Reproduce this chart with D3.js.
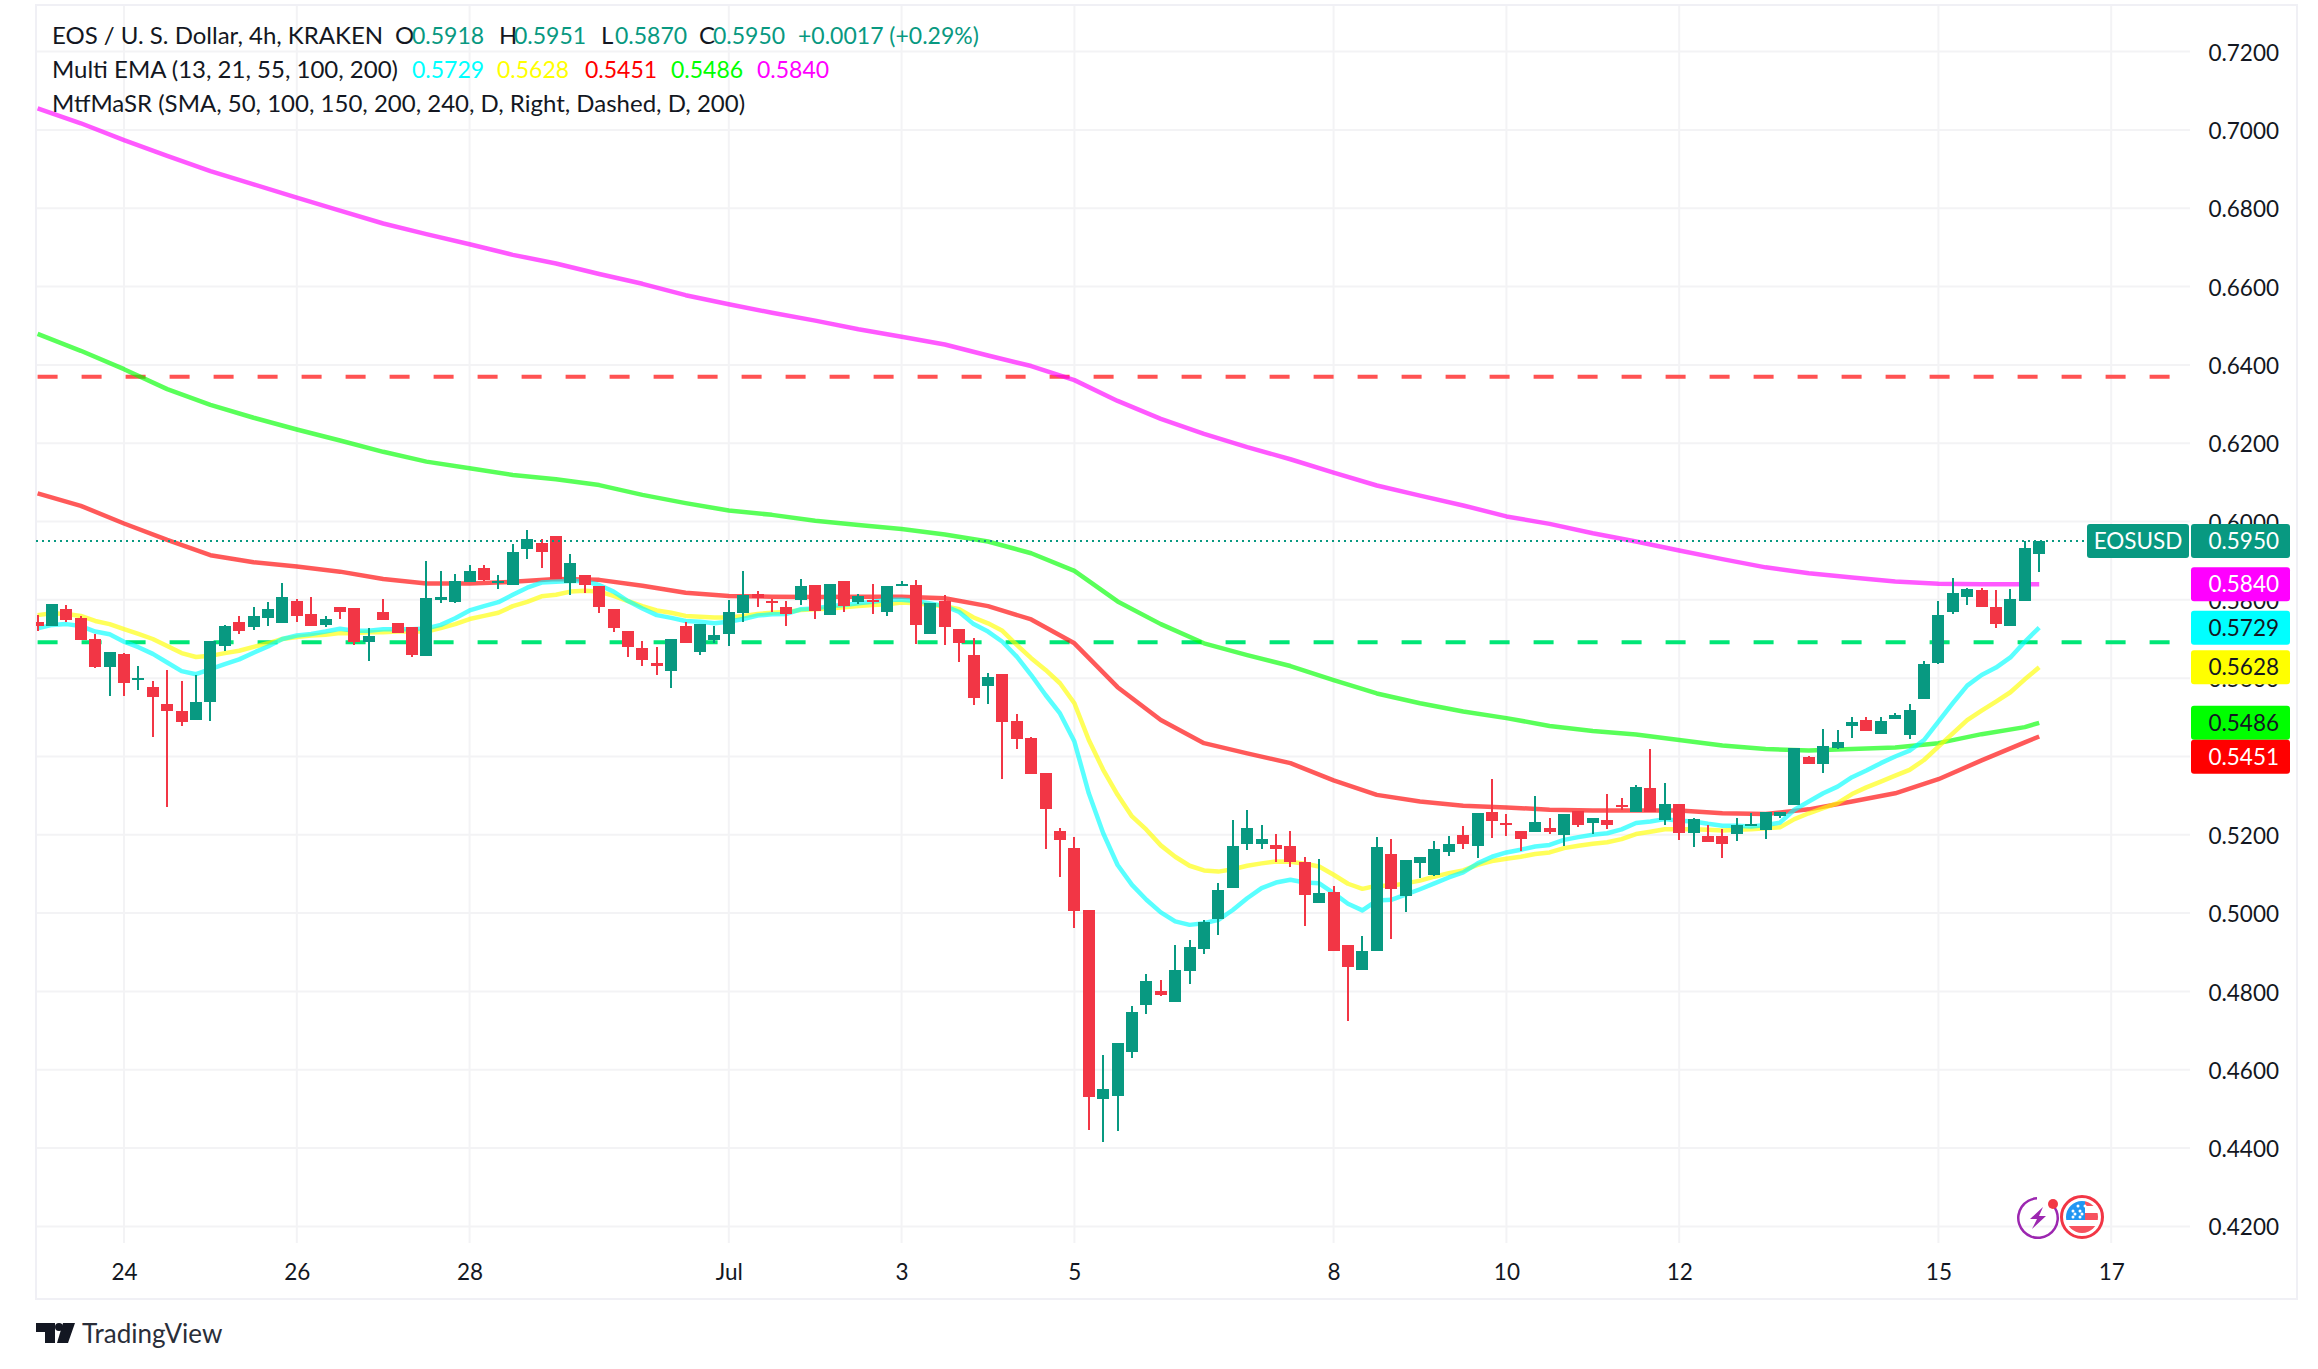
<!DOCTYPE html>
<html>
<head>
<meta charset="utf-8">
<title>EOS / U. S. Dollar</title>
<script src="https://cdn.jsdelivr.net/npm/d3@7"></script>
<style>
    html, body { margin: 0; padding: 0; background: #fff; }
    svg { display: block; }
    text { font-family: Lato, "Noto Sans", sans-serif; fill: #131722; }
</style>
</head>
<body>
<svg id="chart" width="2318" height="1369"></svg>
<script>
// open, high, low, close - one row per 4h bar, first bar is Jun 23 00:00
var candles = [
[.5744,.5761,.5721,.5733],[.5733,.5790,.5733,.5790],[.5777,.5787,.5744,.5749],[.5754,.5759,.5698,.5698],
[.5700,.5713,.5626,.5629],[.5629,.5667,.5555,.5667],[.5662,.5664,.5555,.5588],[.5596,.5631,.5570,.5601],
[.5578,.5593,.5450,.5552],[.5534,.5621,.5271,.5516],[.5516,.5593,.5478,.5488],[.5493,.5608,.5493,.5539],
[.5539,.5695,.5491,.5695],[.5682,.5736,.5670,.5733],[.5744,.5759,.5713,.5721],[.5731,.5782,.5723,.5759],
[.5754,.5795,.5733,.5777],[.5741,.5843,.5741,.5807],[.5797,.5802,.5744,.5759],[.5764,.5807,.5733,.5733],
[.5736,.5759,.5731,.5751],[.5782,.5782,.5751,.5769],[.5779,.5779,.5685,.5693],[.5693,.5728,.5644,.5708],
[.5769,.5802,.5749,.5749],[.5741,.5741,.5716,.5716],[.5731,.5731,.5654,.5659],[.5657,.5899,.5657,.5805],
[.5800,.5874,.5792,.5807],[.5795,.5866,.5792,.5848],[.5846,.5889,.5846,.5874],[.5881,.5889,.5848,.5851],
[.5843,.5864,.5828,.5848],[.5838,.5943,.5838,.5922],[.5930,.5978,.5904,.5955],[.5945,.5955,.5881,.5922],
[.5963,.5963,.5853,.5853],[.5843,.5917,.5813,.5894],[.5864,.5864,.5818,.5838],[.5836,.5836,.5767,.5782],
[.5777,.5777,.5718,.5728],[.5721,.5721,.5654,.5680],[.5677,.5695,.5631,.5647],[.5639,.5680,.5608,.5631],
[.5618,.5700,.5575,.5700],[.5733,.5744,.5690,.5690],[.5667,.5738,.5659,.5738],[.5698,.5733,.5690,.5710],
[.5713,.5800,.5682,.5769],[.5767,.5874,.5744,.5813],[.5815,.5823,.5782,.5805],[.5797,.5802,.5769,.5792],
[.5782,.5797,.5733,.5764],[.5800,.5853,.5787,.5836],[.5838,.5838,.5751,.5772],[.5761,.5841,.5761,.5841],
[.5848,.5848,.5769,.5784],[.5795,.5815,.5790,.5810],[.5800,.5841,.5764,.5795],[.5769,.5836,.5759,.5836],
[.5836,.5848,.5836,.5841],[.5838,.5851,.5687,.5736],[.5713,.5792,.5713,.5792],[.5797,.5813,.5685,.5731],
[.5726,.5726,.5641,.5690],[.5659,.5703,.5532,.5550],[.5580,.5613,.5534,.5603],[.5611,.5611,.5343,.5488],
[.5491,.5509,.5419,.5445],[.5447,.5450,.5356,.5356],[.5358,.5358,.5164,.5266],[.5210,.5218,.5093,.5187],
[.5167,.5195,.4962,.5006],[.5008,.5008,.4447,.4531],[.4526,.4638,.4416,.4551],[.4533,.4669,.4444,.4669],
[.4646,.4763,.4631,.4748],[.4766,.4845,.4743,.4827],[.4802,.4830,.4789,.4791],[.4773,.4919,.4773,.4855],
[.4853,.4932,.4819,.4914],[.4909,.4983,.4896,.4978],[.4985,.5077,.4945,.5059],[.5064,.5238,.5064,.5172],
[.5177,.5264,.5162,.5218],[.5177,.5225,.5164,.5190],[.5174,.5202,.5131,.5164],[.5172,.5210,.5118,.5131],
[.5131,.5144,.4967,.5047],[.5026,.5139,.5026,.5052],[.5054,.5070,.4904,.4904],[.4919,.4919,.4725,.4863],
[.4855,.4942,.4855,.4904],[.4904,.5195,.4904,.5169],[.5151,.5190,.4934,.5062],[.5044,.5136,.5003,.5136],
[.5128,.5144,.5090,.5144],[.5098,.5184,.5095,.5164],[.5156,.5197,.5146,.5177],[.5200,.5223,.5164,.5177],
[.5172,.5256,.5141,.5256],[.5259,.5343,.5192,.5236],[.5230,.5253,.5197,.5225],[.5210,.5210,.5159,.5190],
[.5207,.5299,.5207,.5233],[.5218,.5243,.5202,.5207],[.5200,.5253,.5172,.5253],[.5261,.5261,.5220,.5225],
[.5230,.5243,.5202,.5243],[.5238,.5304,.5215,.5225],[.5276,.5294,.5264,.5271],[.5259,.5327,.5259,.5322],
[.5320,.5419,.5259,.5259],[.5238,.5333,.5225,.5279],[.5279,.5279,.5187,.5205],[.5205,.5243,.5169,.5241],
[.5197,.5225,.5182,.5182],[.5197,.5215,.5141,.5177],[.5202,.5243,.5184,.5225],[.5223,.5256,.5223,.5228],
[.5213,.5259,.5190,.5259],[.5248,.5259,.5243,.5259],[.5276,.5422,.5276,.5422],[.5399,.5401,.5381,.5381],
[.5381,.5470,.5358,.5427],[.5422,.5468,.5419,.5437],[.5478,.5501,.5447,.5488],[.5493,.5501,.5465,.5465],
[.5458,.5501,.5458,.5491],[.5496,.5511,.5496,.5506],[.5455,.5534,.5445,.5519],[.5547,.5644,.5547,.5636],
[.5639,.5797,.5636,.5761],[.5769,.5856,.5764,.5818],[.5807,.5830,.5787,.5828],[.5825,.5830,.5782,.5782],
[.5782,.5825,.5728,.5738],[.5733,.5828,.5733,.5802],[.5797,.5950,.5797,.5933],[.5918,.5951,.5870,.5950]
];

// EMA 13 and EMA 21, read at every bar
var ema13 = [.5727,.5736,.5738,.5733,.5719,.5712,.5693,.5679,.5662,.5640,.5618,.5610,.5623,.5636,.5648,.5665,.5681,.5700,.5709,.5713,
.5719,.5726,.5721,.5721,.5725,.5725,.5725,.5727,.5736,.5753,.5773,.5784,.5794,.5813,.5831,.5844,.5846,.5848,.5848,.5838,
.5821,.5797,.5778,.5761,.5754,.5746,.5744,.5740,.5744,.5751,.5760,.5763,.5764,.5776,.5778,.5784,.5787,.5791,.5795,.5800,
.5800,.5797,.5791,.5784,.5769,.5738,.5719,.5693,.5655,.5608,.5557,.5510,.5438,.5306,.5204,.5123,.5072,.5034,.5002,.4979,
.4970,.4974,.4983,.5008,.5038,.5064,.5078,.5085,.5078,.5076,.5051,.5024,.5007,.5032,.5034,.5047,.5061,.5076,.5091,.5104,
.5127,.5144,.5155,.5162,.5170,.5174,.5187,.5194,.5200,.5204,.5214,.5230,.5234,.5240,.5236,.5234,.5228,.5223,.5223,.5221,
.5225,.5231,.5264,.5285,.5306,.5323,.5347,.5364,.5383,.5400,.5415,.5442,.5489,.5536,.5581,.5608,.5627,.5653,.5693,.5729];

var ema21 = [.5761,.5766,.5764,.5759,.5746,.5738,.5725,.5713,.5700,.5682,.5664,.5654,.5657,.5664,.5670,.5680,.5689,.5700,.5705,.5709,
.5711,.5715,.5715,.5717,.5717,.5719,.5719,.5719,.5728,.5738,.5751,.5759,.5767,.5784,.5795,.5809,.5813,.5821,.5823,.5821,
.5810,.5797,.5784,.5773,.5767,.5759,.5757,.5755,.5755,.5759,.5764,.5767,.5769,.5774,.5776,.5778,.5781,.5784,.5787,.5789,
.5793,.5791,.5787,.5784,.5776,.5755,.5740,.5721,.5685,.5651,.5621,.5587,.5536,.5442,.5366,.5302,.5247,.5213,.5173,.5144,
.5121,.5109,.5106,.5112,.5121,.5127,.5132,.5131,.5126,.5119,.5098,.5075,.5062,.5070,.5070,.5076,.5083,.5093,.5102,.5109,
.5123,.5133,.5139,.5144,.5151,.5155,.5166,.5172,.5177,.5181,.5189,.5202,.5208,.5214,.5214,.5214,.5213,.5211,.5213,.5214,
.5217,.5219,.5240,.5255,.5268,.5281,.5304,.5321,.5336,.5351,.5366,.5391,.5425,.5459,.5493,.5517,.5540,.5564,.5597,.5628];

// the slow averages are read every third bar
var slowBars = [0,3,6,9,12,15,18,21,24,27,30,33,36,39,42,45,48,51,54,57,60,63,66,69,72,75,78,81,84,87,90,93,96,99,102,105,108,111,114,117,120,123,126,129,132,135,138,139];
var ema55 = [.6072,.6040,.5995,.5953,.5914,.5896,.5885,.5872,.5853,.5842,.5842,.5846,.5853,.5851,.5836,.5818,.5810,.5808,.5807,.5808,.5808,.5804,.5784,.5750,.5689,.5577,.5493,.5434,.5408,.5383,.5339,.5302,.5285,.5274,.5270,.5264,.5262,.5262,.5262,.5255,.5253,.5265,.5285,.5306,.5342,.5390,.5436,.5451];
var ema100 = [.6479,.6436,.6389,.6338,.6298,.6265,.6235,.6207,.6178,.6153,.6136,.6119,.6108,.6093,.6068,.6047,.6028,.6017,.6002,.5991,.5981,.5967,.5949,.5919,.5874,.5796,.5738,.5689,.5659,.5631,.5595,.5561,.5536,.5515,.5498,.5478,.5465,.5456,.5442,.5428,.5419,.5415,.5419,.5423,.5434,.5457,.5475,.5486];
var ema200 = [.7055,.7017,.6974,.6934,.6895,.6861,.6827,.6794,.6761,.6734,.6708,.6681,.6659,.6632,.6607,.6578,.6555,.6533,.6513,.6491,.6472,.6452,.6424,.6397,.6361,.6308,.6262,.6224,.6190,.6159,.6125,.6092,.6066,.6041,.6013,.5994,.5970,.5949,.5926,.5904,.5883,.5868,.5857,.5847,.5841,.5840,.5840,.5840];

var levelValues = [0.6370, 0.5692];
var levelColors = ["#ff5252", "#00e676"];

var priceTicks = [0.42,0.44,0.46,0.48,0.50,0.52,0.54,0.56,0.58,0.60,0.62,0.64,0.66,0.68,0.70,0.72];
var timeTickBars = [6,18,30,48,60,72,90,102,114,132,144];
var timeTickLabels = ["24","26","28","Jul","3","5","8","10","12","15","17"];

var tagValues = [0.5840, 0.5729, 0.5628, 0.5486, 0.5451];
var tagColors = ["#ff00ff", "#00ffff", "#ffff00", "#00ff00", "#ff0000"];
var tagTextColors = ["#ffffff", "#131722", "#131722", "#131722", "#ffffff"];
var lastPrice = 0.5950;

var upColor = "#089981";
var downColor = "#f23645";
var gridColor = "#f3f3f5";
var borderColor = "#f0f0f5";

var paneLeft = 36, paneRight = 2190, paneTop = 5, paneBottom = 1243, frameRight = 2297, frameBottom = 1299;
var tagHeight = 34;

var svg = d3.select("#chart");
var x = d3.scaleLinear().domain([0, 144]).range([37.6, 2111.2]);
var y = d3.scaleLinear().domain([0.42, 0.72]).range([1226.4, 51.6]);
var priceFormat = d3.format(".4f");

svg.append("defs").append("clipPath").attr("id", "paneClip").append("rect")
    .attr("x", paneLeft).attr("y", paneTop)
    .attr("width", paneRight - paneLeft).attr("height", paneBottom - paneTop);

// Grid
svg.append("g").selectAll("line").data(priceTicks).join("line")
    .attr("x1", paneLeft).attr("x2", paneRight)
    .attr("y1", function(d) { return y(d); }).attr("y2", function(d) { return y(d); })
    .attr("stroke", gridColor).attr("stroke-width", 2);
svg.append("g").selectAll("line").data(timeTickBars).join("line")
    .attr("x1", function(d) { return x(d); }).attr("x2", function(d) { return x(d); })
    .attr("y1", paneTop).attr("y2", paneBottom)
    .attr("stroke", gridColor).attr("stroke-width", 2);

// Frame
svg.append("rect")
    .attr("x", paneLeft).attr("y", paneTop)
    .attr("width", frameRight - paneLeft).attr("height", frameBottom - paneTop)
    .attr("fill", "none").attr("stroke", borderColor).attr("stroke-width", 2);

var pane = svg.append("g").attr("clip-path", "url(#paneClip)");

// Dashed support / resistance levels
pane.append("g").selectAll("line").data(levelValues).join("line")
    .attr("x1", x(0)).attr("x2", x(148.4))
    .attr("y1", function(d) { return y(d); }).attr("y2", function(d) { return y(d); })
    .attr("stroke", function(d, i) { return levelColors[i]; })
    .attr("stroke-width", 4)
    .attr("stroke-dasharray", "20 24");

// Last price line
svg.append("line")
    .attr("x1", paneLeft).attr("x2", 2087)
    .attr("y1", y(lastPrice)).attr("y2", y(lastPrice))
    .attr("stroke", upColor).attr("stroke-width", 2)
    .attr("stroke-dasharray", "2 4");

// Moving averages
function drawAverage(values, bars, color) {
    var line = d3.line()
        .x(function(d, i) { return x(bars ? bars[i] : i); })
        .y(function(d) { return y(d); });
    pane.append("path")
        .attr("d", line(values))
        .attr("fill", "none")
        .attr("stroke", color)
        .attr("stroke-opacity", 0.65)
        .attr("stroke-width", 4.5)
        .attr("stroke-linejoin", "round");
}
drawAverage(ema200, slowBars, "#ff00ff");
drawAverage(ema100, slowBars, "#00ff00");
drawAverage(ema55, slowBars, "#ff0000");
drawAverage(ema21, null, "#ffff00");
drawAverage(ema13, null, "#00ffff");

// Candles
function candleColor(d) { return d[3] >= d[0] ? upColor : downColor; }

pane.append("g").attr("shape-rendering", "crispEdges")
    .selectAll("rect").data(candles).join("rect")
    .attr("x", function(d, i) { return Math.round(x(i)) - 1; })
    .attr("width", 2)
    .attr("y", function(d) { return y(d[1]); })
    .attr("height", function(d) { return y(d[2]) - y(d[1]); })
    .attr("fill", candleColor);

pane.append("g").attr("shape-rendering", "crispEdges")
    .selectAll("rect").data(candles).join("rect")
    .attr("x", function(d, i) { return Math.round(x(i)) - 6; })
    .attr("width", 12)
    .attr("y", function(d) { return y(Math.max(d[0], d[3])); })
    .attr("height", function(d) { return Math.max(2, Math.abs(y(d[0]) - y(d[3]))); })
    .attr("fill", candleColor);

// Axes
var priceAxis = d3.axisRight(y).tickValues(priceTicks).tickFormat(priceFormat).tickSize(0);
var priceGroup = svg.append("g").attr("transform", "translate(" + paneRight + ",0)").call(priceAxis);
priceGroup.select(".domain").remove();
priceGroup.selectAll("text")
    .attr("x", 89).attr("dy", "0.38em").attr("text-anchor", "end")
    .style("font-family", "Lato, sans-serif").style("font-size", "22.5px").attr("fill", "#131722");

var timeAxis = d3.axisBottom(x).tickValues(timeTickBars)
    .tickFormat(function(d, i) { return timeTickLabels[i]; }).tickSize(0);
var timeGroup = svg.append("g").attr("transform", "translate(0," + paneBottom + ")").call(timeAxis);
timeGroup.select(".domain").remove();
timeGroup.selectAll("text")
    .attr("y", 21)
    .style("font-family", "Lato, sans-serif").style("font-size", "22.5px").attr("fill", "#131722");

// Price tags on the right
function priceTag(left, width, centerY, label, fill, textFill, anchorX, anchor) {
    svg.append("rect")
        .attr("x", left).attr("y", centerY - tagHeight / 2)
        .attr("width", width).attr("height", tagHeight)
        .attr("rx", 3)
        .attr("fill", fill);
    svg.append("text")
        .attr("x", anchorX).attr("y", centerY).attr("dy", "0.36em")
        .attr("text-anchor", anchor)
        .style("font-size", "22.5px").style("fill", textFill)
        .text(label);
}
// a tag that would sit on the one above is pushed down, as the platform does
var prevTagY = -Infinity;
tagValues.forEach(function(v, i) {
    var tagY = Math.max(y(v), prevTagY + tagHeight);
    priceTag(2191, 99, tagY, priceFormat(v), tagColors[i], tagTextColors[i], 2279, "end");
    prevTagY = tagY;
});
priceTag(2087, 102, y(lastPrice), "EOSUSD", upColor, "#ffffff", 2138, "middle");
priceTag(2191, 99, y(lastPrice), priceFormat(lastPrice), upColor, "#ffffff", 2279, "end");

// Legend
function legendText(px, py, label, fill, size) {
    svg.append("text")
        .attr("x", px).attr("y", py).attr("dy", "0.35em")
        .style("font-size", (size || 24) + "px").style("fill", fill || "#131722")
        .text(label);
}
legendText(52, 36, "EOS / U. S. Dollar, 4h, KRAKEN");
legendText(395, 36, "O");
legendText(412, 36, priceFormat(candles[139][0]), upColor, 23);
legendText(499, 36, "H");
legendText(514, 36, priceFormat(candles[139][1]), upColor, 23);
legendText(601, 36, "L");
legendText(615, 36, priceFormat(candles[139][2]), upColor, 23);
legendText(699, 36, "C");
legendText(713, 36, priceFormat(candles[139][3]), upColor, 23);
legendText(798, 36, "+0.0017 (+0.29%)", upColor, 23);

legendText(52, 70, "Multi EMA (13, 21, 55, 100, 200)");
legendText(412, 70, priceFormat(ema13[139]), "#00ffff", 23);
legendText(497, 70, priceFormat(ema21[139]), "#ffff00", 23);
legendText(585, 70, priceFormat(ema55[47]), "#ff0000", 23);
legendText(671, 70, priceFormat(ema100[47]), "#00ff00", 23);
legendText(757, 70, priceFormat(ema200[47]), "#ff00ff", 23);

legendText(52, 104, "MtfMaSR (SMA, 50, 100, 150, 200, 240, D, Right, Dashed, D, 200)");

// Event icons
var iconGroup = svg.append("g");
iconGroup.append("path")
    .attr("d", d3.arc()({ innerRadius: 18.5, outerRadius: 21, startAngle: 0.75, endAngle: 2 * Math.PI - 0.05 }))
    .attr("transform", "translate(2038,1218)")
    .attr("fill", "#9c27b0");
iconGroup.append("path")
    .attr("transform", "translate(2038,1218)")
    .attr("d", "M5,-11 L-8,1 L-1,1 L-6,11 L8,-2 L1,-2 Z")
    .attr("fill", "#9c27b0");
iconGroup.append("circle").attr("cx", 2053).attr("cy", 1204).attr("r", 5).attr("fill", "#f23645");

var flag = iconGroup.append("g").attr("transform", "translate(2082,1217)");
flag.append("circle").attr("r", 20.5).attr("fill", "#fff").attr("stroke", "#f23645").attr("stroke-width", 3);
flag.append("clipPath").attr("id", "flagClip").append("circle").attr("r", 16);
var flagInner = flag.append("g").attr("clip-path", "url(#flagClip)");
flagInner.append("rect").attr("x", 3).attr("y", -16).attr("width", 16).attr("height", 5).attr("fill", "#f7525f");
flagInner.append("rect").attr("x", 3).attr("y", -4).attr("width", 16).attr("height", 7).attr("fill", "#f7525f");
flagInner.append("rect").attr("x", -16).attr("y", 9).attr("width", 32).attr("height", 8).attr("fill", "#f7525f");
flagInner.append("rect").attr("x", -16).attr("y", -16).attr("width", 19).attr("height", 19).attr("fill", "#2196f3");
[[-6, -11], [1, -11], [-11, -6], [-4, -6], [-11, 0], [-4, 0], [-9, -3], [-2, -3]].forEach(function(p) {
    flagInner.append("circle").attr("cx", p[0] + 2).attr("cy", p[1]).attr("r", 1.5).attr("fill", "#fff");
});

// Logo
var logo = svg.append("g").attr("fill", "#131722");
logo.append("path").attr("d", "M36,1323 H55 V1343 H45 V1332 H36 Z");
logo.append("circle").attr("cx", 59).attr("cy", 1327).attr("r", 4);
logo.append("path").attr("d", "M63,1323 H75 L68,1343 H57 Z");
svg.append("text").attr("x", 82).attr("y", 1334).attr("dy", "0.35em")
    .style("font-size", "26px").style("fill", "#2a2e39")
    .text("TradingView");
</script>
</body>
</html>
